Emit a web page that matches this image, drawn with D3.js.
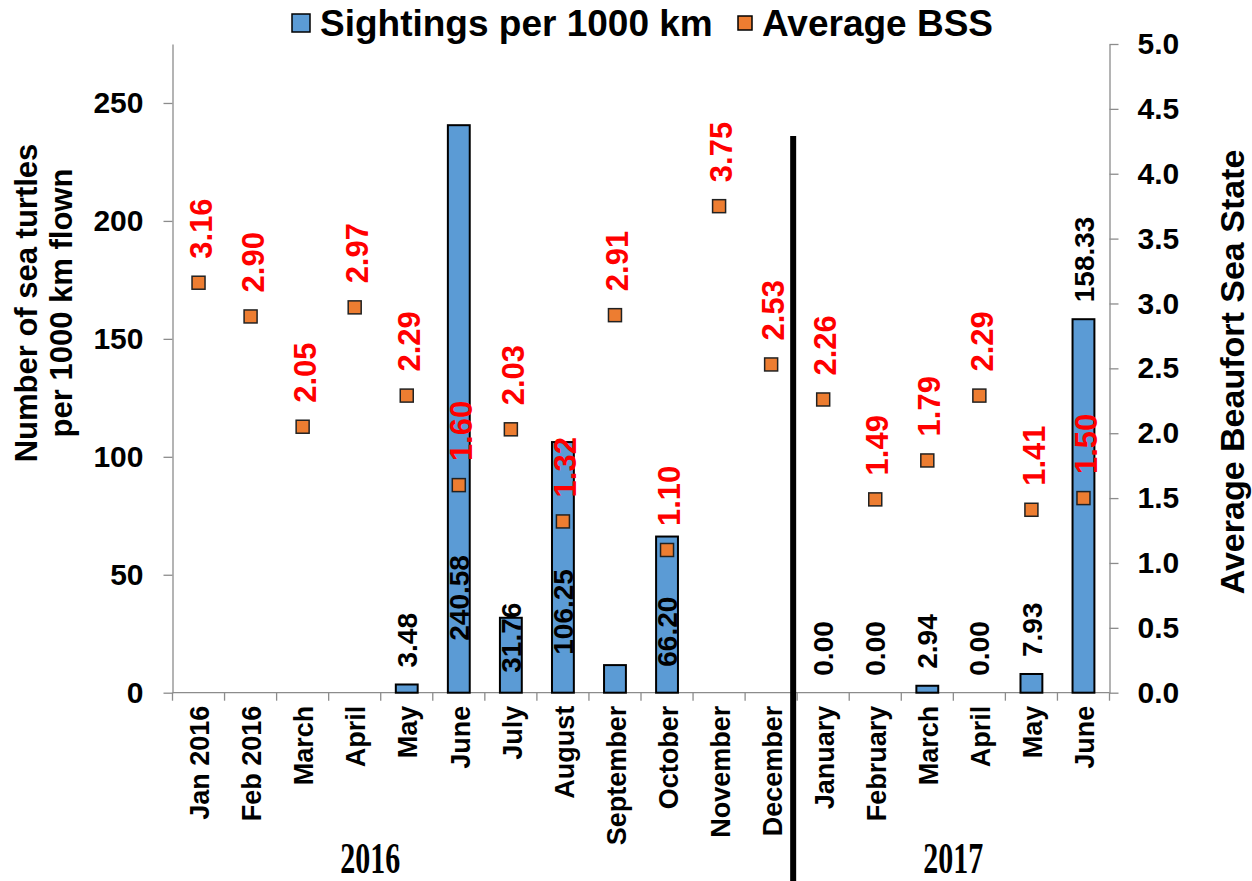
<!DOCTYPE html>
<html>
<head>
<meta charset="utf-8">
<script src="https://cdn.jsdelivr.net/npm/d3@7"></script>
<style>
  body { margin: 0; background: #fff; }
  svg { display: block; font-family: "Liberation Sans", Arial, sans-serif; }
</style>
</head>
<body>
<div id="chart"></div>
<script>
// month categories (two years, names repeat)
var months = ['Jan 2016', 'Feb 2016', 'March', 'April', 'May', 'June', 'July', 'August',
  'September', 'October', 'November', 'December',
  'January', 'February', 'March', 'April', 'May', 'June'];

// sightings per 1000 km (null = no survey)
var sightings = [null, null, null, null, 3.48, 240.58, 31.76, 106.25, 11.7, 66.20, null, null,
  0, 0, 2.94, 0, 7.93, 158.33];

// average Beaufort sea state
var bss = [3.16, 2.90, 2.05, 2.97, 2.29, 1.60, 2.03, 1.32, 2.91, 1.10, 3.75, 2.53,
  2.26, 1.49, 1.79, 2.29, 1.41, 1.50];

var leftTicks = [0, 50, 100, 150, 200, 250];
var rightTicks = [0, 0.5, 1, 1.5, 2, 2.5, 3, 3.5, 4, 4.5, 5];
var years = ['2016', '2017'];

var W = 1252, H = 881;
var plotL = 172.5, plotR = 1109.5, plotT = 44, plotB = 692.7;
var gray = '#8c8c8c';

var svg = d3.select('#chart').append('svg')
  .attr('width', W)
  .attr('height', H);

var x = d3.scaleBand()
  .domain(d3.range(months.length))
  .range([plotL, plotR]);

var y = d3.scaleLinear().domain([0, 275]).range([plotB, plotT]);
var y2 = d3.scaleLinear().domain([0, 5]).range([plotB, plotT]);

var cx = i => x(i) + x.bandwidth() / 2;
var barW = x.bandwidth() * 0.42;

// axes
var gl = svg.append('g')
  .attr('transform', 'translate(' + plotL + ',0)')
  .call(d3.axisLeft(y).tickValues(leftTicks).tickSize(9).tickSizeOuter(0).tickPadding(20));
var gr = svg.append('g')
  .attr('transform', 'translate(' + plotR + ',0)')
  .call(d3.axisRight(y2).tickValues(rightTicks).tickSize(9).tickSizeOuter(0).tickPadding(19)
    .tickFormat(d3.format('.1f')));
[gl, gr].forEach(g => {
  g.selectAll('path, line').attr('stroke', gray).attr('stroke-width', 1.3);
  g.selectAll('text')
    .attr('fill', '#000')
    .style('font-family', '"Liberation Sans", Arial, sans-serif')
    .style('font-size', '30px')
    .style('font-weight', 'bold');
});

// x axis line and ticks at category boundaries
svg.append('line')
  .attr('x1', plotL).attr('x2', plotR)
  .attr('y1', plotB).attr('y2', plotB)
  .attr('stroke', gray).attr('stroke-width', 1.3);
svg.selectAll('.xtick')
  .data(d3.range(months.length + 1))
  .enter()
  .append('line')
  .attr('x1', i => i < months.length ? x(i) : plotR)
  .attr('x2', i => i < months.length ? x(i) : plotR)
  .attr('y1', plotB).attr('y2', plotB + 8)
  .attr('stroke', gray).attr('stroke-width', 1.3);

svg.selectAll('.xlab')
  .data(months)
  .enter()
  .append('text')
  .attr('transform', (d, i) => 'translate(' + (cx(i) + 1) + ',' + (plotB + 13) + ') rotate(-90)')
  .attr('text-anchor', 'end')
  .attr('dy', '0.36em')
  .style('font-size', '27px')
  .style('font-weight', 'bold')
  .text(d => d);

// bars
sightings.forEach((d, i) => {
  if (d === null || d <= 0) return;
  svg.append('rect')
    .attr('x', cx(i) - barW / 2)
    .attr('y', y(d))
    .attr('width', barW)
    .attr('height', plotB - y(d))
    .attr('fill', '#5B9BD5')
    .attr('stroke', '#000')
    .attr('stroke-width', 2);
});

// bar value labels; some sit near the base inside the bar
var insideLift = { 5: 52, 6: 20, 7: 38, 9: 26 };
var hideLabel = { 8: true };
sightings.forEach((d, i) => {
  if (d === null || hideLabel[i]) return;
  var yy = insideLift[i] !== undefined ? plotB - insideLift[i] : y(d) - 17;
  svg.append('text')
    .attr('transform', 'translate(' + cx(i) + ',' + yy + ') rotate(-90)')
    .attr('dy', '0.36em')
    .style('font-size', '28px')
    .style('font-weight', 'bold')
    .attr('fill', '#000')
    .text(d.toFixed(2));
});

// divider between years
svg.append('line')
  .attr('x1', x(12) - 4).attr('x2', x(12) - 4)
  .attr('y1', 136).attr('y2', H)
  .attr('stroke', '#000')
  .attr('stroke-width', 6);

// BSS markers
var ms = 13;
svg.selectAll('.bss')
  .data(bss)
  .enter()
  .append('rect')
  .attr('x', (d, i) => cx(i) - ms / 2)
  .attr('y', d => y2(d) - ms / 2)
  .attr('width', ms)
  .attr('height', ms)
  .attr('fill', '#ED7D31')
  .attr('stroke', '#222')
  .attr('stroke-width', 1.5);

svg.selectAll('.bsslab')
  .data(bss)
  .enter()
  .append('text')
  .attr('transform', (d, i) => 'translate(' + (cx(i) + 2) + ',' + (y2(d) - 24) + ') rotate(-90)')
  .attr('dy', '0.36em')
  .attr('fill', '#FF0000')
  .style('font-size', '31px')
  .style('font-weight', 'bold')
  .text(d => d.toFixed(2));

// axis titles
var lt = svg.append('text')
  .attr('transform', 'translate(45,303) rotate(-90)')
  .attr('text-anchor', 'middle')
  .style('font-size', '31px')
  .style('font-weight', 'bold');
lt.append('tspan').attr('x', 0).attr('dy', '-0.25em').text('Number of sea turtles');
lt.append('tspan').attr('x', 0).attr('dy', '1.12em').text('per 1000 km flown');

svg.append('text')
  .attr('transform', 'translate(1232,372) rotate(-90)')
  .attr('text-anchor', 'middle')
  .attr('dy', '0.36em')
  .style('font-size', '34px')
  .style('font-weight', 'bold')
  .text('Average Beaufort Sea State');

// year labels under the month names
var yearX = [x(3) + x.bandwidth() * 0.8, x(15)];
svg.selectAll('.year')
  .data(years)
  .enter()
  .append('text')
  .attr('transform', (d, i) => 'translate(' + yearX[i] + ',873) scale(1,1.5)')
  .attr('text-anchor', 'middle')
  .style('font-family', '"Liberation Serif", "Times New Roman", serif')
  .style('font-size', '30px')
  .style('font-weight', 'bold')
  .text(d => d);

// legend
var legend = svg.append('g');
legend.append('rect')
  .attr('x', 292).attr('y', 14).attr('width', 18).attr('height', 18)
  .attr('fill', '#5B9BD5').attr('stroke', '#000').attr('stroke-width', 1.5);
legend.append('text')
  .attr('x', 320).attr('y', 36)
  .style('font-size', '37px').style('font-weight', 'bold')
  .text('Sightings per 1000 km');
legend.append('rect')
  .attr('x', 738).attr('y', 16).attr('width', 14).attr('height', 14)
  .attr('fill', '#ED7D31').attr('stroke', '#000').attr('stroke-width', 1.5);
legend.append('text')
  .attr('x', 762).attr('y', 36)
  .style('font-size', '37px').style('font-weight', 'bold')
  .text('Average BSS');
</script>
</body>
</html>
